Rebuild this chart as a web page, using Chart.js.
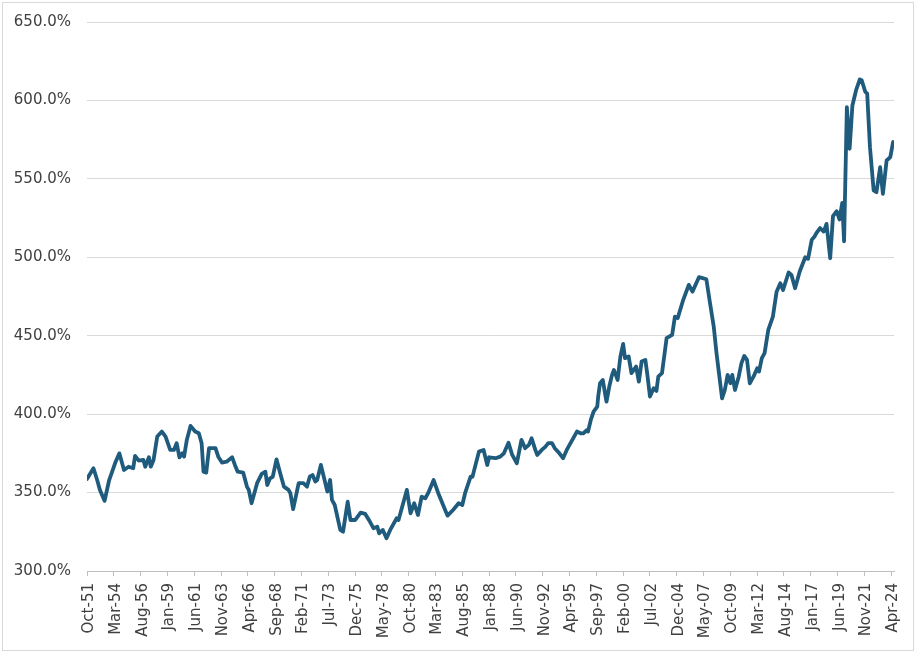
<!DOCTYPE html>
<html>
<head>
<meta charset="utf-8">
<script src="https://cdn.jsdelivr.net/npm/chart.js@4"></script>
<style>
    body { margin: 0; background: #fff; overflow: hidden; }
    #wrap { position: relative; width: 918px; height: 654px; overflow: hidden; }
    #frame { position: absolute; left: 2px; top: 2px; width: 910px; height: 647px; border: 1px solid #d9d9d9; }
    /* el área del gráfico arranca en y=25 en el canvas; se sube 3px */
    canvas { position: absolute; left: 0; top: -3px; }
</style>
</head>
<body>
<div id="wrap">
    <div id="frame"></div>
    <canvas id="chart" width="918" height="657"></canvas>
</div>
<script>
// Meses transcurridos desde oct-1951 (eje X)
const monthsFromOct51 = [
    0, 7, 11, 14, 19, 24, 31, 35, 40, 45,
    50, 52, 56, 61, 63, 67, 69, 72, 76, 81,
    85, 90, 94, 97, 100, 103, 105, 108, 112, 117,
    121, 124, 126, 129, 132, 139, 142, 146, 151, 157,
    160, 163, 169, 173, 175, 178, 182, 184, 189, 193,
    195, 198, 201, 205, 209, 213, 218, 220, 223, 229,
    234, 238, 241, 244, 247, 249, 253, 257, 260, 263,
    265, 268, 274, 277, 282, 285, 290, 296, 301, 306,
    310, 314, 316, 320, 324, 328, 335, 337, 346, 350,
    354, 358, 362, 366, 369, 375, 380, 386, 390, 396,
    402, 406, 409, 415, 417, 424, 429, 433, 435, 442,
    447, 451, 456, 460, 465, 470, 474, 478, 481, 485,
    487, 492, 496, 499, 503, 506, 511, 515, 519, 525,
    530, 534, 537, 541, 542, 545, 548, 552, 553, 555,
    558, 561, 562, 565, 568, 570, 574, 577, 580, 582,
    586, 589, 594, 597, 600, 604, 606, 609, 613, 616,
    618, 622, 627, 633, 636, 639, 645, 651, 655, 662,
    666, 670, 674, 678, 681, 685, 687, 690, 693, 696,
    698, 701, 705, 708, 711, 714, 717, 721, 725, 727,
    730, 733, 737, 742, 746, 750, 753, 759, 762, 766,
    771, 777, 780, 784, 787, 789, 793, 797, 800, 804,
    807, 811, 814, 817, 819, 822, 825, 828, 832, 836,
    838, 842, 844, 847, 851, 854, 858, 861, 865, 869,
    872
];

// Valores en %
const ratioValues = [
    358.7, 365.5, 358, 351.7, 344.7, 358, 369.7, 375, 364.4, 366.5,
    365.5, 373.4, 370.4, 370.8, 366.5, 372.5, 366.5, 370.8, 385.7, 388.9,
    385.7, 377.2, 377.2, 381.5, 372.5, 375, 372.9, 383.6, 392.5, 388.9,
    387.8, 381.5, 363.3, 362.7, 378.3, 378.3, 372.9, 369.1, 369.7, 372.5,
    367.6, 363.3, 362.7, 353.8, 351.7, 343.2, 351.7, 356, 361.9, 363.3,
    354.8, 359.1, 360.1, 371.2, 362.3, 353.8, 351.7, 349.6, 339.4, 356,
    356, 353.8, 360.1, 361.2, 357, 358, 367.6, 358, 350.6, 358,
    345.3, 342.1, 326.2, 325.1, 344.2, 332.5, 332.5, 337.2, 336.4, 331.5,
    327.2, 328.3, 324, 326.2, 320.9, 326.2, 333.6, 332.5, 351.7, 336.8,
    343.2, 335.7, 347.4, 346.4, 349.6, 358, 349.6, 341, 335.3, 338.9,
    343.2, 342.1, 349.6, 360.1, 360.1, 376.1, 377.2, 367.6, 372.5, 371.9,
    372.9, 375, 381.8, 374, 368.7, 383.6, 378.3, 380.4, 384.6, 377.2,
    374, 377.2, 379.3, 381.5, 381.5, 378.3, 375, 371.9, 377.2, 383.6,
    388.9, 387.8, 387.8, 389.9, 388.9, 396.3, 401.6, 404.8, 411.2, 419.7,
    421.8, 411.2, 408, 417.6, 425, 428.2, 421.8, 436.7, 444.8, 435.7,
    436.7, 426.1, 430.3, 420.7, 433.5, 434.6, 426.1, 411.2, 416.5, 414.8,
    423.9, 426.1, 448.4, 450.5, 462.2, 461.2, 472.9, 482.4, 478.1, 487.3,
    486.7, 486, 470.7, 455.8, 438.8, 419.7, 410.1, 415.4, 425, 419.7,
    425, 415.4, 423.9, 432.5, 437.1, 434.6, 419.7, 423.9, 429.3, 427.1,
    435.7, 438.9, 453.7, 462.2, 478.1, 483.5, 479.2, 490.3, 488.8, 480.3,
    490.9, 500, 499, 511.1, 513.2, 515.4, 518.6, 516.4, 521.3, 499.4,
    526.2, 529.4, 524.1, 534.7, 510.2, 595.7, 569.2, 596.8, 606.5, 613.4,
    612.9, 605.4, 604.3, 570.2, 542.6, 541.5, 557.4, 540.4, 561.7, 563.9,
    573.5
];

// Etiquetas del eje X (cada 29 meses)
const tickLabels = [
    'Oct-51', 'Mar-54', 'Aug-56', 'Jan-59', 'Jun-61', 'Nov-63', 'Apr-66', 'Sep-68',
    'Feb-71', 'Jul-73', 'Dec-75', 'May-78', 'Oct-80', 'Mar-83', 'Aug-85', 'Jan-88',
    'Jun-90', 'Nov-92', 'Apr-95', 'Sep-97', 'Feb-00', 'Jul-02', 'Dec-04', 'May-07',
    'Oct-09', 'Mar-12', 'Aug-14', 'Jan-17', 'Jun-19', 'Nov-21', 'Apr-24'
];
const tickStep = 29;

const textColor = '#404040';
const font = { family: 'DejaVu Sans', size: 15 };

const points = monthsFromOct51.map((m, i) => ({ x: m, y: ratioValues[i] }));

new Chart(document.getElementById('chart'), {
    type: 'line',
    data: {
        datasets: [{
            data: points,
            borderColor: '#1f5b7d',
            borderWidth: 3.8,
            borderJoinStyle: 'round',
            borderCapStyle: 'round',
            pointRadius: 0,
            tension: 0
        }]
    },
    options: {
        responsive: false,
        animation: false,
        events: [],
        layout: { padding: { top: 19, right: 24, left: 0, bottom: 0 } },
        plugins: { legend: { display: false }, tooltip: { enabled: false } },
        scales: {
            x: {
                type: 'linear',
                min: 0,
                max: 873,
                afterFit: scale => {
                    scale.height = 83;
                    scale.paddingLeft = 0;
                    scale.paddingRight = 0;
                },
                afterBuildTicks: scale => {
                    scale.ticks = tickLabels.map((_, i) => ({ value: i * tickStep }));
                },
                ticks: {
                    autoSkip: false,
                    maxRotation: 90,
                    minRotation: 90,
                    padding: 7,
                    labelOffset: 2,
                    color: textColor,
                    font: font,
                    callback: (value, index) => tickLabels[index]
                },
                grid: {
                    drawOnChartArea: false,
                    drawTicks: true,
                    tickLength: 5,
                    color: '#bfbfbf'
                },
                border: { display: true, color: '#bfbfbf' }
            },
            y: {
                min: 300,
                max: 650,
                afterFit: scale => { scale.width = 87; },
                ticks: {
                    stepSize: 50,
                    padding: 16,
                    color: textColor,
                    font: font,
                    callback: v => v.toFixed(1) + '%'
                },
                grid: { color: '#d9d9d9', drawTicks: false },
                border: { display: false }
            }
        }
    }
});
</script>
</body>
</html>
